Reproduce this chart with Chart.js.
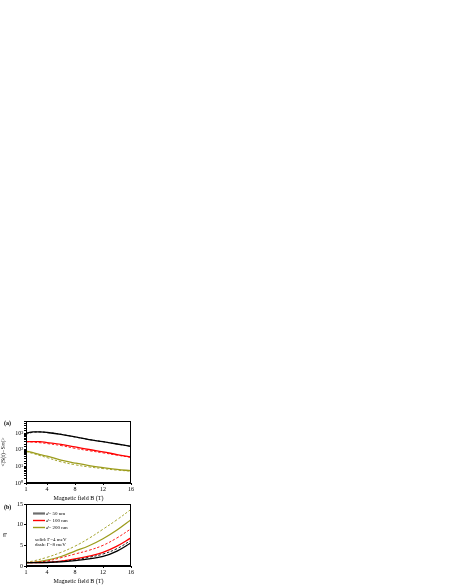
<!DOCTYPE html>
<html>
<head>
<meta charset="utf-8">
<script src="https://cdn.jsdelivr.net/npm/chart.js@4.4.0/dist/chart.umd.min.js"></script>
<style>
  body { margin: 0; background: #fff; width: 452px; height: 585px; position: relative; overflow: hidden; }
  canvas { position: absolute; left: 0; }
  #chartA { top: 405px; }
  #chartB { top: 495px; }
</style>
</head>
<body>
<canvas id="chartA" width="140" height="97"></canvas>
<canvas id="chartB" width="140" height="90"></canvas>
<script>
// panel (a): magnetization vs field (log scale)
const fieldA = [1, 2, 3, 4, 6, 8, 10, 12, 14, 16];
const black4A = [1000, 1200, 1200, 1120, 870, 600, 420, 310, 225, 160];
const black8A = [890, 1150, 1200, 1120, 870, 600, 420, 310, 225, 160];
const red4A = [310, 316, 310, 275, 214, 151, 105, 76, 52, 37];
const red8A = [310, 295, 270, 240, 182, 123, 89, 66, 48, 35];
const olive4A = [85, 68, 52, 42, 24, 16, 11.2, 8.5, 6.6, 5.5];
const olive8A = [79, 60, 45, 34, 19, 12.6, 9.3, 7.4, 6.0, 5.2];

// panel (b): eta vs field
const fieldB = [1, 2, 4, 6, 8, 10, 12, 14, 16];
const black4B = [0.8, 0.8, 0.85, 1.0, 1.3, 1.7, 2.3, 3.6, 5.6];
const black8B = [0.8, 0.8, 0.9, 1.1, 1.5, 2.1, 2.9, 4.2, 6.2];
const red4B = [0.8, 0.8, 0.9, 1.2, 1.7, 2.4, 3.3, 4.8, 6.8];
const red8B = [0.85, 0.9, 1.2, 2.0, 2.9, 3.8, 5.0, 6.8, 9.0];
const olive4B = [0.8, 0.9, 1.4, 2.3, 3.6, 4.9, 6.6, 8.7, 11.2];
const olive8B = [0.9, 1.2, 2.1, 3.3, 4.8, 6.7, 8.9, 11.2, 13.7];

const xTicks = [1, 4, 8, 12, 16];
const legendLabels = ['50 nm', '100 nm', '200 nm'];
const noteLabels = ['solid: \u0393=4 meV', 'dash: \u0393=8 meV'];

const BLACK = '#000000';
const RED = '#ff0000';
const OLIVE = '#9c9c1c';
const serif = 'Liberation Serif';

function pts(xs, ys) {
    return xs.map((x, i) => ({ x: x, y: ys[i] }));
}

function solid(data, color) {
    return { data: data, borderColor: color, borderWidth: 1.3, pointRadius: 0, tension: 0.4, fill: false };
}

function dashed(data, color) {
    return { data: data, borderColor: color, borderWidth: 0.9, borderDash: [2.5, 1.8], pointRadius: 0, tension: 0.4, fill: false };
}

// box around plot area plus the panel letter
function framePlugin(letter, letterY) {
    return {
        id: 'frame' + letter.replace(/[()]/g, ''),
        afterDraw(chart) {
            const { ctx, chartArea } = chart;
            ctx.save();
            ctx.strokeStyle = '#000';
            ctx.lineWidth = 1;
            ctx.strokeRect(chartArea.left + 0.5, chartArea.top + 0.5,
                chartArea.right - chartArea.left - 1, chartArea.bottom - chartArea.top - 1);
            ctx.fillStyle = '#000';
            ctx.font = 'bold 6px "' + serif + '"';
            ctx.textBaseline = 'middle';
            ctx.fillText(letter, 4, letterY);
            ctx.restore();
        }
    };
}

const xScale = (withTitle) => ({
    type: 'linear',
    min: 1,
    max: 16,
    afterBuildTicks: (scale) => { scale.ticks = xTicks.map(v => ({ value: v })); },
    afterFit: (scale) => { scale.height = 19; },
    ticks: { color: '#000', font: { family: serif, size: 6 }, padding: 1, maxRotation: 0 },
    grid: { drawOnChartArea: false, color: '#000', tickLength: 2 },
    border: { color: '#000' },
    title: { display: withTitle, text: 'Magnetic field B (T)', color: '#000', font: { family: serif, size: 6 }, padding: 0 }
});

const supers = { 0: '\u2070', 1: '\u00b9', 2: '\u00b2', 3: '\u00b3' };

new Chart(document.getElementById('chartA'), {
    type: 'line',
    data: {
        datasets: [
            solid(pts(fieldA, black4A), BLACK),
            dashed(pts(fieldA, black8A), BLACK),
            solid(pts(fieldA, red4A), RED),
            dashed(pts(fieldA, red8A), RED),
            solid(pts(fieldA, olive4A), OLIVE),
            dashed(pts(fieldA, olive8A), OLIVE)
        ]
    },
    options: {
        responsive: false,
        animation: false,
        layout: { padding: { top: 16, right: 9, left: 0, bottom: 0 } },
        plugins: { legend: { display: false }, tooltip: { enabled: false } },
        scales: {
            x: xScale(true),
            y: {
                type: 'logarithmic',
                min: 1,
                max: 5500,
                afterFit: (scale) => { scale.width = 26; },
                ticks: {
                    autoSkip: false,
                    color: '#000',
                    padding: 1,
                    font: { family: serif, size: 6 },
                    callback: (v) => {
                        const e = Math.log10(v);
                        return Math.abs(e - Math.round(e)) < 1e-6 ? '10' + supers[Math.round(e)] : '';
                    }
                },
                grid: { drawOnChartArea: false, color: '#000', tickLength: 2 },
                border: { color: '#000' },
                title: { display: true, text: '<|S(t)\u2212S\u221e|>', color: '#000', font: { family: serif, size: 6 }, padding: 0 }
            }
        }
    },
    plugins: [framePlugin('(a)', 18)]
});

// legend and notes drawn inside panel (b)
const legendPlugin = {
    id: 'legendB',
    afterDraw(chart) {
        const ctx = chart.ctx;
        const colors = ['#6e6e6e', RED, OLIVE];
        ctx.save();
        ctx.textBaseline = 'middle';
        legendLabels.forEach((lab, i) => {
            const y = 18.5 + i * 7;
            ctx.strokeStyle = colors[i];
            ctx.lineWidth = i === 0 ? 2.2 : 1.4;
            ctx.beginPath();
            ctx.moveTo(33, y);
            ctx.lineTo(45, y);
            ctx.stroke();
            ctx.fillStyle = '#000';
            ctx.font = 'italic 5px "' + serif + '"';
            ctx.fillText('d', 46, y);
            const w = ctx.measureText('d').width;
            ctx.font = '5px "' + serif + '"';
            ctx.fillText('= ' + lab, 46 + w, y);
        });
        ctx.font = '5px "' + serif + '"';
        ctx.fillStyle = '#000';
        noteLabels.forEach((t, i) => {
            ctx.fillText(t, 35, 44.5 + i * 5.5);
        });
        ctx.restore();
    }
};

new Chart(document.getElementById('chartB'), {
    type: 'line',
    data: {
        datasets: [
            solid(pts(fieldB, black4B), BLACK),
            dashed(pts(fieldB, black8B), BLACK),
            solid(pts(fieldB, red4B), RED),
            dashed(pts(fieldB, red8B), RED),
            solid(pts(fieldB, olive4B), OLIVE),
            dashed(pts(fieldB, olive8B), OLIVE)
        ]
    },
    options: {
        responsive: false,
        animation: false,
        layout: { padding: { top: 9, right: 9, left: 0, bottom: 0 } },
        plugins: { legend: { display: false }, tooltip: { enabled: false } },
        scales: {
            x: xScale(true),
            y: {
                type: 'linear',
                min: 0,
                max: 15,
                afterFit: (scale) => { scale.width = 26; },
                ticks: { stepSize: 5, color: '#000', padding: 1, font: { family: serif, size: 6 } },
                grid: { drawOnChartArea: false, color: '#000', tickLength: 2 },
                border: { color: '#000' },
                title: { display: true, text: '\u03b7', color: '#000', font: { family: serif, size: 7 }, padding: 0 }
            }
        }
    },
    plugins: [framePlugin('(b)', 12), legendPlugin]
});
</script>
</body>
</html>
